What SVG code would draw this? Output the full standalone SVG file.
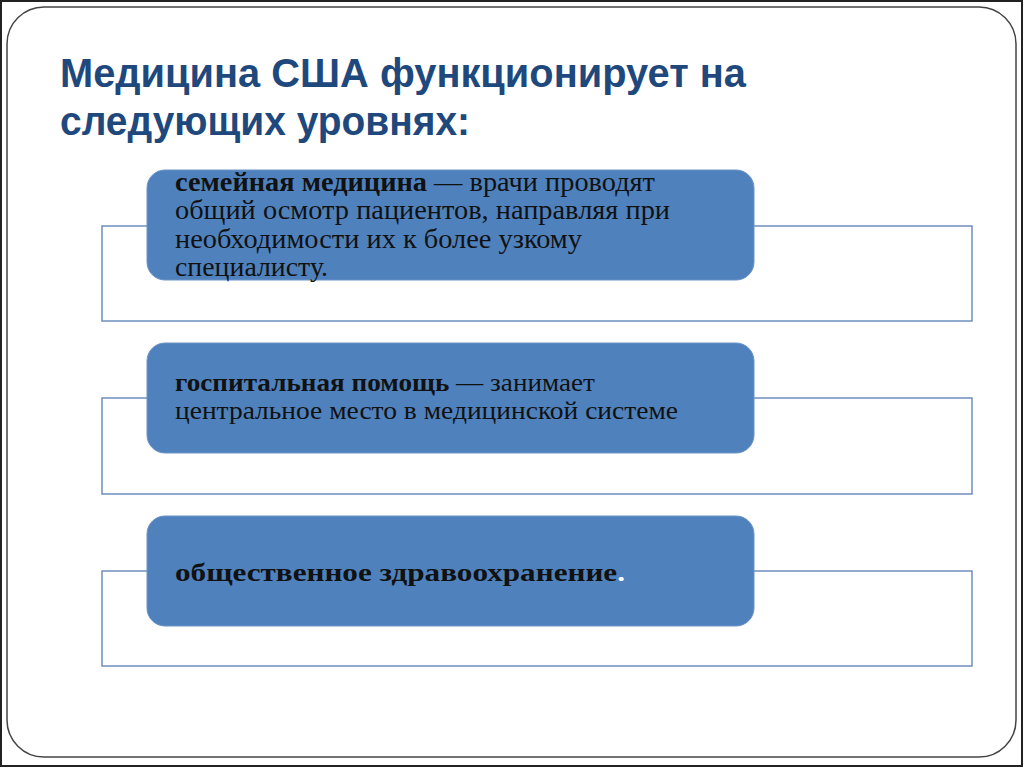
<svg xmlns="http://www.w3.org/2000/svg" width="1024" height="768" viewBox="0 0 1024 768">
<style>
.title{font-family:"Liberation Sans",Arial,sans-serif;font-weight:bold;font-size:40px;fill:#1F497D}
.outline{fill:#ffffff;stroke:#6F8FBF;stroke-width:1.5}
.pill{fill:#4F81BD;stroke:#6A93C6;stroke-width:1}
.t1{font-family:"Liberation Serif","Times New Roman",serif;font-size:27px;fill:#111111}
.t2{font-family:"Liberation Serif","Times New Roman",serif;font-size:26px;fill:#111111}
.b{font-weight:bold}
</style>
<rect x="0" y="0" width="1024" height="768" fill="#ffffff"/>
<rect x="1" y="1" width="1021" height="765" fill="none" stroke="#222222" stroke-width="2"/>
<rect x="7" y="7" width="1009" height="750" rx="37" ry="37" fill="#ffffff" stroke="#444444" stroke-width="1.5"/>
<g id="title">
<text class="title" x="60" y="87" textLength="686" lengthAdjust="spacingAndGlyphs">Медицина США функционирует на</text>
<text class="title" x="60" y="135" textLength="410" lengthAdjust="spacingAndGlyphs">следующих уровнях:</text>
</g>
<g id="node1">
<rect class="outline" x="102" y="226" width="870" height="95"/>
<rect class="pill" x="147" y="170" width="607" height="110" rx="18" ry="18"/>
<text class="t1" x="175" y="191" textLength="480" lengthAdjust="spacingAndGlyphs"><tspan class="b">семейная медицина</tspan> — врачи проводят</text>
<text class="t1" x="175" y="219" textLength="495" lengthAdjust="spacingAndGlyphs">общий осмотр пациентов, направляя при</text>
<text class="t1" x="175" y="248" textLength="407" lengthAdjust="spacingAndGlyphs">необходимости их к более узкому</text>
<text class="t1" x="175" y="276" textLength="153" lengthAdjust="spacingAndGlyphs">специалисту.</text>
</g>
<g id="node2">
<rect class="outline" x="102" y="398" width="870" height="96"/>
<rect class="pill" x="147" y="343" width="607" height="110" rx="18" ry="18"/>
<text class="t2" x="175" y="391" textLength="420" lengthAdjust="spacingAndGlyphs"><tspan class="b">госпитальная помощь</tspan> — занимает</text>
<text class="t2" x="175" y="419" textLength="503" lengthAdjust="spacingAndGlyphs">центральное место в медицинской системе</text>
</g>
<g id="node3">
<rect class="outline" x="102" y="571" width="870" height="95"/>
<rect class="pill" x="147" y="516" width="607" height="110" rx="18" ry="18"/>
<text class="t2 b" x="175" y="581" textLength="450" lengthAdjust="spacingAndGlyphs">общественное здравоохранение<tspan fill="#ffffff">.</tspan></text>
</g>
</svg>
